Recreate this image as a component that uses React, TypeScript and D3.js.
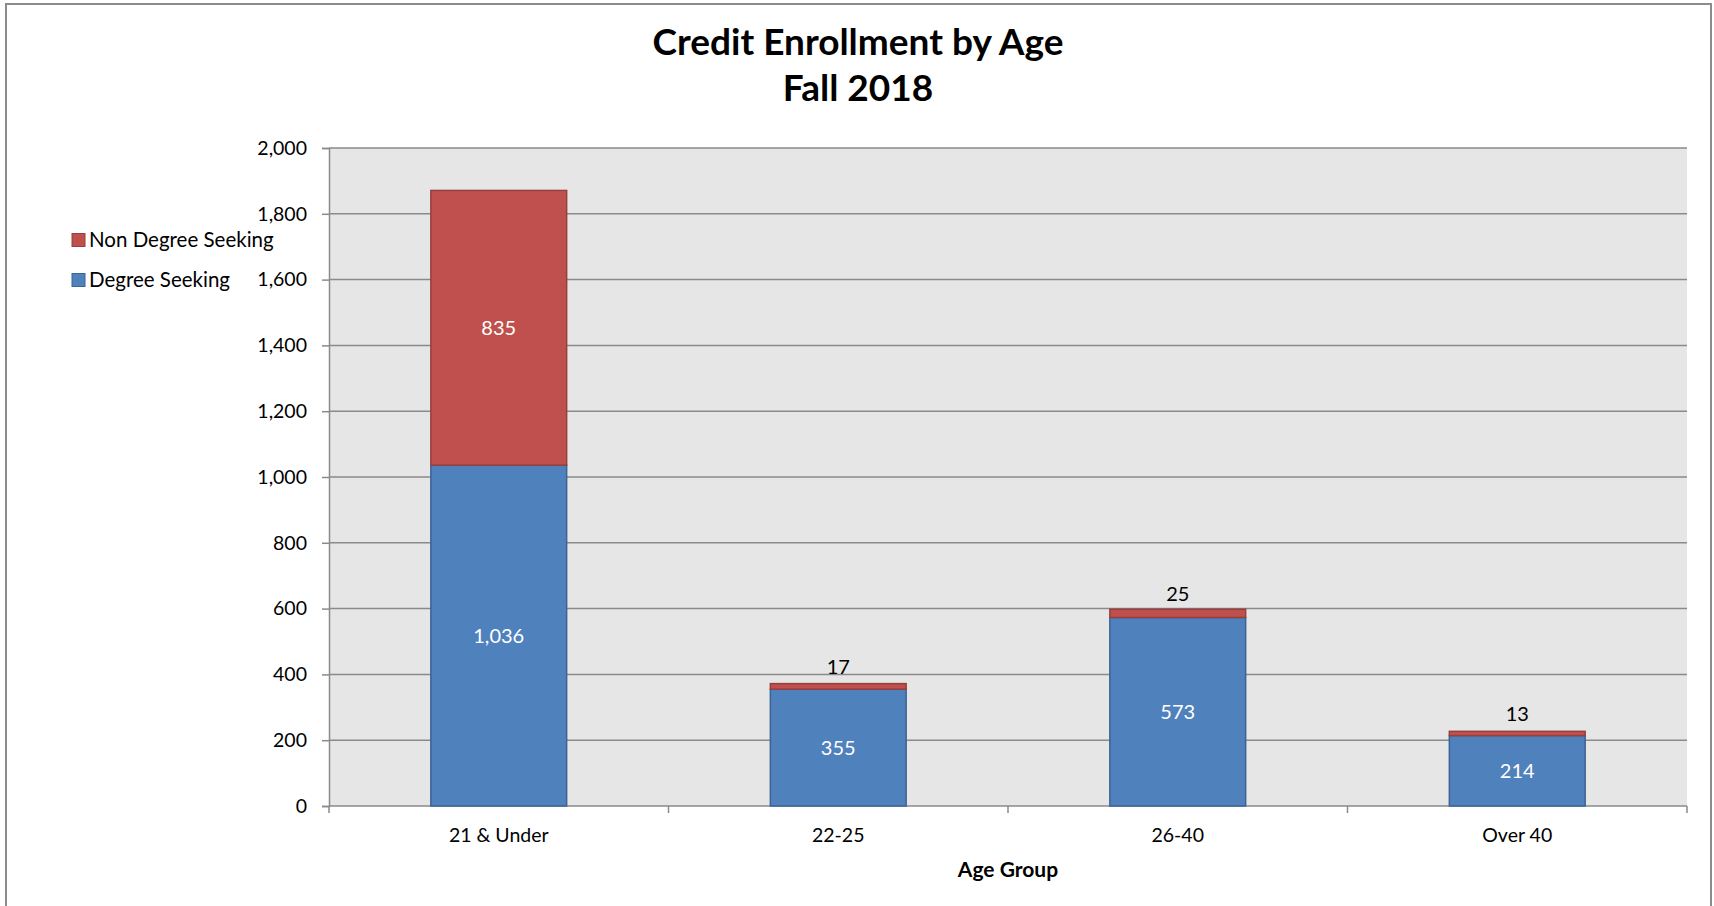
import { useEffect, useRef } from "react";
import * as d3 from "d3";

const ageGroups = ["21 & Under", "22-25", "26-40", "Over 40"];
const degreeSeeking = [1036, 355, 573, 214];
const nonDegreeSeeking = [835, 17, 25, 13];
const yTicks = [0, 200, 400, 600, 800, 1000, 1200, 1400, 1600, 1800, 2000];

const BLUE = "#4F81BD";
const BLUE_EDGE = "#3A6494";
const RED = "#C0504D";
const RED_EDGE = "#94403D";
const FONT = "Lato, 'Open Sans', sans-serif";

export default function App() {
  const svgRef = useRef<SVGSVGElement>(null);
  const width = 1714;
  const height = 906;

  useEffect(() => {
    if (!svgRef.current) return;
    const svg = d3.select(svgRef.current);
    svg.selectAll("*").remove();

    const plot = { left: 329, right: 1687, top: 148, bottom: 806 };

    // chart area frame
    svg
      .append("rect")
      .attr("x", 6)
      .attr("y", 4)
      .attr("width", 1705)
      .attr("height", 920)
      .attr("fill", "white")
      .attr("stroke", "#8c8c8c")
      .attr("stroke-width", 2);

    // title
    const title = svg
      .append("text")
      .attr("x", 858)
      .attr("text-anchor", "middle")
      .style("font-family", FONT)
      .style("font-weight", "bold")
      .style("font-size", "37px")
      .attr("fill", "black");
    title.append("tspan").attr("x", 858).attr("y", 55).text("Credit Enrollment by Age");
    title.append("tspan").attr("x", 858).attr("y", 101).text("Fall 2018");

    const x = d3
      .scaleBand<string>()
      .domain(ageGroups)
      .range([plot.left, plot.right])
      .paddingInner(0.6)
      .paddingOuter(0.3);

    const y = d3.scaleLinear().domain([0, 2000]).range([plot.bottom, plot.top]);

    // plot background
    svg
      .append("rect")
      .attr("x", plot.left)
      .attr("y", plot.top)
      .attr("width", plot.right - plot.left)
      .attr("height", plot.bottom - plot.top)
      .attr("fill", "#E6E6E6");

    // gridlines
    svg
      .append("g")
      .selectAll("line")
      .data(yTicks.slice(1))
      .enter()
      .append("line")
      .attr("x1", plot.left)
      .attr("x2", plot.right)
      .attr("y1", (d) => y(d))
      .attr("y2", (d) => y(d))
      .attr("stroke", "#8a8a8a")
      .attr("stroke-width", 1.5);

    // y axis
    const yAxis = svg
      .append("g")
      .attr("transform", `translate(${plot.left},0)`)
      .call(
        d3
          .axisLeft(y)
          .tickValues(yTicks)
          .tickSize(7)
          .tickPadding(15)
          .tickFormat((d) => d3.format(",")(d as number))
      );
    yAxis.select(".domain").attr("stroke", "#8a8a8a").attr("stroke-width", 1.5);
    yAxis.selectAll(".tick line").attr("stroke", "#8a8a8a").attr("stroke-width", 1.5);
    yAxis
      .selectAll(".tick text")
      .style("font-family", FONT)
      .style("font-size", "19.5px")
      .attr("fill", "black");

    // x axis line and category boundary ticks
    const step = x.step();
    const boundaries = d3.range(ageGroups.length + 1).map((i) => plot.left + i * step);
    svg
      .append("line")
      .attr("x1", plot.left)
      .attr("x2", plot.right)
      .attr("y1", plot.bottom)
      .attr("y2", plot.bottom)
      .attr("stroke", "#8a8a8a")
      .attr("stroke-width", 1.5);
    svg
      .append("g")
      .selectAll("line")
      .data(boundaries)
      .enter()
      .append("line")
      .attr("x1", (d) => d)
      .attr("x2", (d) => d)
      .attr("y1", plot.bottom)
      .attr("y2", plot.bottom + 7)
      .attr("stroke", "#8a8a8a")
      .attr("stroke-width", 1.5);

    svg
      .append("g")
      .selectAll("text")
      .data(ageGroups)
      .enter()
      .append("text")
      .attr("x", (d) => (x(d) as number) + x.bandwidth() / 2)
      .attr("y", 842)
      .attr("text-anchor", "middle")
      .style("font-family", FONT)
      .style("font-size", "19.5px")
      .attr("fill", "black")
      .text((d) => d);

    svg
      .append("text")
      .attr("x", (plot.left + plot.right) / 2)
      .attr("y", 877)
      .attr("text-anchor", "middle")
      .style("font-family", FONT)
      .style("font-weight", "bold")
      .style("font-size", "21px")
      .attr("fill", "black")
      .text("Age Group");

    // stacked bars
    const rows = ageGroups.map((g, i) => ({
      group: g,
      degree: degreeSeeking[i],
      nonDegree: nonDegreeSeeking[i],
    }));
    const stack = d3.stack<(typeof rows)[number]>().keys(["degree", "nonDegree"]);
    const series = stack(rows as any);
    const fills = [BLUE, RED];
    const edges = [BLUE_EDGE, RED_EDGE];

    series.forEach((s, si) => {
      const grp = svg.append("g");
      grp
        .selectAll("rect")
        .data(s)
        .enter()
        .append("rect")
        .attr("x", (d) => x(d.data.group) as number)
        .attr("width", x.bandwidth())
        .attr("y", (d) => y(d[1]))
        .attr("height", (d) => y(d[0]) - y(d[1]))
        .attr("fill", fills[si])
        .attr("stroke", edges[si])
        .attr("stroke-width", 1.5);

      grp
        .selectAll("text")
        .data(s)
        .enter()
        .append("text")
        .attr("x", (d) => (x(d.data.group) as number) + x.bandwidth() / 2)
        .attr("y", (d) => {
          const mid = (y(d[0]) + y(d[1])) / 2;
          const h = y(d[0]) - y(d[1]);
          return h < 30 ? mid - 19 : mid;
        })
        .attr("dy", "0.35em")
        .attr("text-anchor", "middle")
        .style("font-family", FONT)
        .style("font-size", "20px")
        .attr("fill", (d) => (y(d[0]) - y(d[1]) < 30 ? "black" : "white"))
        .text((d) => d3.format(",")(d[1] - d[0]));
    });

    // legend
    const legendItems = [
      { label: "Non Degree Seeking", color: RED, edge: RED_EDGE },
      { label: "Degree Seeking", color: BLUE, edge: BLUE_EDGE },
    ];
    const legend = svg.append("g").attr("transform", "translate(72, 240)");
    legendItems.forEach((item, i) => {
      const row = legend.append("g").attr("transform", `translate(0, ${i * 40})`);
      row
        .append("rect")
        .attr("x", 0)
        .attr("y", -6.5)
        .attr("width", 13)
        .attr("height", 13)
        .attr("fill", item.color)
        .attr("stroke", item.edge)
        .attr("stroke-width", 1);
      row
        .append("text")
        .attr("x", 17)
        .attr("y", 0)
        .attr("dy", "0.35em")
        .style("font-family", FONT)
        .style("font-size", "20.5px")
        .attr("fill", "black")
        .text(item.label);
    });
  }, []);

  return (
    <svg
      ref={svgRef}
      width={width}
      height={height}
      style={{ position: "absolute", left: 0, top: 0, display: "block", background: "white" }}
    />
  );
}
